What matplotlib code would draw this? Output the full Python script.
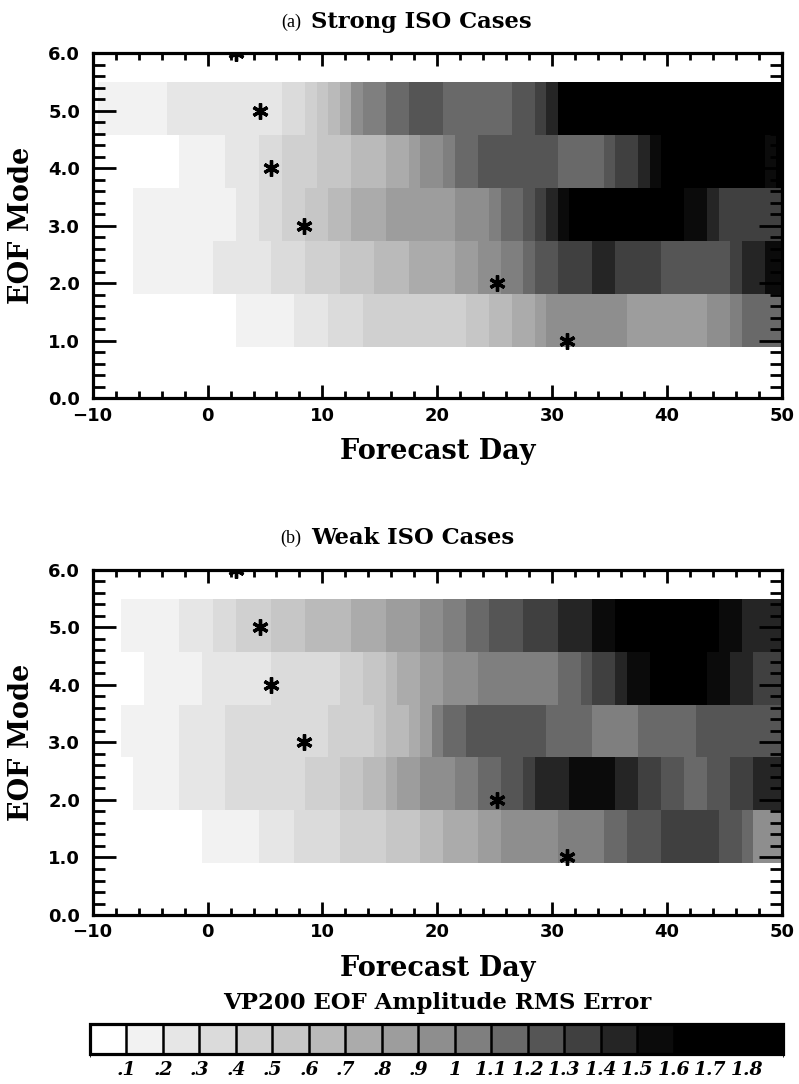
import numpy as np
import matplotlib
matplotlib.use("Agg")
import matplotlib.pyplot as plt
from matplotlib.colors import ListedColormap, BoundaryNorm
from matplotlib.ticker import MultipleLocator


# --------------------------------------------------------------------------
# data: one cell per forecast day (-9 .. 50) for EOF modes 1-5
# each row is a list of (rms error, number of consecutive days) runs
# --------------------------------------------------------------------------
DAYS = np.arange(-9, 51)
MODE_EDGES = [0.9, 1.82, 2.74, 3.66, 4.58, 5.5]

STRONG_M1 = [(0.05, 12), (0.15, 5), (0.25, 3), (0.35, 3), (0.45, 9), (0.55, 2), (0.65, 2),
             (0.75, 2), (0.85, 1), (0.95, 7), (0.85, 7), (0.95, 2), (1.05, 1), (1.15, 4)]
STRONG_M2 = [(0.05, 3), (0.15, 7), (0.25, 5), (0.35, 3), (0.45, 3), (0.55, 3), (0.65, 3),
             (0.75, 4), (0.85, 2), (0.95, 2), (1.05, 2), (1.15, 1), (1.25, 2), (1.35, 3),
             (1.45, 2), (1.35, 4), (1.25, 6), (1.35, 1), (1.45, 2), (1.55, 2)]
STRONG_M3 = [(0.05, 3), (0.15, 9), (0.25, 2), (0.35, 2), (0.45, 2), (0.55, 2), (0.65, 2),
             (0.75, 3), (0.85, 6), (0.95, 3), (1.05, 1), (1.15, 2), (1.25, 1), (1.35, 1),
             (1.45, 1), (1.55, 1), (1.75, 10), (1.55, 2), (1.45, 1), (1.35, 6)]
STRONG_M4 = [(0.05, 7), (0.15, 4), (0.25, 3), (0.35, 2), (0.45, 3), (0.55, 3), (0.65, 3),
             (0.75, 2), (0.85, 1), (0.95, 2), (1.05, 1), (1.15, 2), (1.25, 7), (1.15, 4),
             (1.25, 1), (1.35, 2), (1.45, 1), (1.55, 1), (1.75, 9), (1.55, 1), (1.75, 1)]
STRONG_M5 = [(0.15, 6), (0.25, 10), (0.35, 2), (0.45, 1), (0.55, 1), (0.65, 1), (0.75, 1),
             (0.95, 1), (1.05, 2), (1.15, 2), (1.25, 3), (1.15, 6), (1.25, 2), (1.35, 1),
             (1.45, 1), (1.75, 20)]

WEAK_M1 = [(0.05, 9), (0.15, 5), (0.25, 3), (0.35, 4), (0.45, 4), (0.55, 3), (0.65, 2),
           (0.75, 3), (0.85, 2), (0.95, 5), (1.05, 4), (1.15, 2), (1.25, 3), (1.35, 5),
           (1.25, 2), (1.15, 1), (0.95, 3)]
WEAK_M2 = [(0.05, 3), (0.15, 4), (0.25, 4), (0.35, 7), (0.45, 3), (0.55, 2), (0.65, 2),
           (0.75, 1), (0.85, 2), (0.95, 3), (1.05, 2), (1.15, 2), (1.25, 2), (1.35, 1),
           (1.45, 3), (1.55, 4), (1.45, 2), (1.35, 2), (1.25, 2), (1.15, 2), (1.25, 2),
           (1.35, 2), (1.45, 3)]
WEAK_M3 = [(0.05, 2), (0.15, 5), (0.25, 4), (0.35, 9), (0.45, 4), (0.55, 1), (0.65, 2),
           (0.75, 1), (0.85, 1), (1.05, 1), (1.15, 2), (1.25, 7), (1.15, 4), (1.05, 4),
           (1.15, 5), (1.25, 8)]
WEAK_M4 = [(0.05, 4), (0.15, 5), (0.25, 6), (0.35, 6), (0.45, 2), (0.55, 2), (0.65, 1),
           (0.75, 2), (0.85, 2), (0.95, 3), (1.05, 7), (1.15, 2), (1.25, 1), (1.35, 2),
           (1.45, 1), (1.55, 2), (1.75, 5), (1.55, 2), (1.45, 2), (1.35, 3)]
WEAK_M5 = [(0.05, 2), (0.15, 5), (0.25, 3), (0.35, 2), (0.45, 3), (0.55, 3), (0.65, 4),
           (0.75, 3), (0.85, 3), (0.95, 2), (1.05, 2), (1.15, 2), (1.25, 3), (1.35, 3),
           (1.45, 3), (1.55, 2), (1.75, 9), (1.55, 2), (1.45, 4)]

# asterisks (same in both panels)
STAR_DAY = [31.3, 25.2, 8.4, 5.5, 4.6, 2.5]
STAR_MODE = [1, 2, 3, 4, 5, 6]

# colour scale: 19 grey boxes from 0 to 1.9
LEVELS = np.round(np.arange(0, 1.95, 0.1), 2)
GREYS = [255, 242, 230, 219, 208, 198, 186, 171, 157, 142, 127, 105, 85, 64, 37, 11, 0, 0, 0]
CB_TICKS = np.round(np.arange(0.1, 1.85, 0.1), 2)

TITLE_FONT = "DejaVu Serif"
TICK_FONT = "DejaVu Sans"


def expand(runs):
    vals = np.concatenate([np.full(n, v) for v, n in runs])
    assert len(vals) == len(DAYS)
    return vals


def style_axes(ax):
    ax.set_xlim(-10, 50)
    ax.set_ylim(0, 6)
    ax.xaxis.set_major_locator(MultipleLocator(10))
    ax.xaxis.set_minor_locator(MultipleLocator(2))
    ax.yaxis.set_major_locator(MultipleLocator(1))
    ax.yaxis.set_minor_locator(MultipleLocator(0.2))
    ax.yaxis.set_major_formatter(plt.FormatStrFormatter("%.1f"))
    ax.tick_params(which="both", direction="in", top=True, right=True, width=2.0,
                   color="black")
    ax.tick_params(axis="x", which="major", length=9.5, pad=6)
    ax.tick_params(axis="x", which="minor", length=5)
    ax.tick_params(axis="y", which="major", length=16.5, pad=9)
    ax.tick_params(axis="y", which="minor", length=8.5)
    for lab in ax.get_xticklabels() + ax.get_yticklabels():
        lab.set_fontfamily(TICK_FONT)
        lab.set_fontweight("bold")
        lab.set_fontsize(13)
    for sp in ax.spines.values():
        sp.set_linewidth(2.3)
    ax.set_xlabel("Forecast Day", fontfamily=TITLE_FONT, fontweight="bold", fontsize=19.5)
    ax.set_ylabel("EOF Mode", fontfamily=TITLE_FONT, fontweight="bold", fontsize=19.5)
    ax.xaxis.set_label_coords(0.5, -0.155)
    ax.xaxis.label.set_va("center")
    ax.yaxis.set_label_coords(-0.103, 0.5)
    ax.yaxis.label.set_va("center")


def main():
    cmap = ListedColormap([(g / 255, g / 255, g / 255) for g in GREYS])
    norm = BoundaryNorm(LEVELS, cmap.N)

    x_edges = np.append(DAYS - 0.5, DAYS[-1] + 0.5)

    fig = plt.figure(figsize=(7.99, 10.84), dpi=100)
    ax_a = fig.add_axes([0.116, 0.6326, 0.8627, 0.3183])
    ax_b = fig.add_axes([0.116, 0.1559, 0.8627, 0.3183])

    panels = [
        (ax_a, [STRONG_M1, STRONG_M2, STRONG_M3, STRONG_M4, STRONG_M5], "(a)",
         "Strong ISO Cases", 0.9797),
        (ax_b, [WEAK_M1, WEAK_M2, WEAK_M3, WEAK_M4, WEAK_M5], "(b)",
         "Weak ISO Cases", 0.5037),
    ]

    mesh = None
    for ax, rows, tag, title, ty in panels:
        grid = np.vstack([expand(r) for r in rows])
        mesh = ax.pcolormesh(x_edges, MODE_EDGES, grid, cmap=cmap, norm=norm,
                             edgecolors="none")
        ax.plot(STAR_DAY, STAR_MODE, linestyle="none", marker=(6, 2, 0),
                markersize=11.5, markeredgewidth=2.4, color="black")
        style_axes(ax)
        fig.text(0.377, ty, tag, ha="right", va="center", fontfamily="Liberation Serif",
                 fontsize=13)
        fig.text(0.389, ty, title, ha="left", va="center", fontfamily=TITLE_FONT,
                 fontweight="bold", fontsize=16.3)

    # ---------------- colour bar ----------------
    cax = fig.add_axes([0.1126, 0.0277, 0.8677, 0.0274])
    cb = fig.colorbar(mesh, cax=cax, orientation="horizontal", drawedges=True,
                      ticks=CB_TICKS)
    cb.outline.set_linewidth(2.3)
    cb.dividers.set_linewidth(1.8)
    cb.dividers.set_color("black")
    labels = []
    for t in CB_TICKS:
        s = f"{t:.1f}"
        if s.startswith("0"):
            s = s[1:]
        if s == "1.0":
            s = "1"
        labels.append(s)
    cb.set_ticklabels(labels)
    cax.tick_params(length=0, pad=5)
    for lab in cax.get_xticklabels():
        lab.set_fontfamily(TITLE_FONT)
        lab.set_fontstyle("italic")
        lab.set_fontweight("bold")
        lab.set_fontsize(13.5)
    fig.text(0.547, 0.0747, "VP200 EOF Amplitude RMS Error", ha="center", va="center",
             fontfamily=TITLE_FONT, fontweight="bold", fontsize=16.4)

    fig.savefig("out.png", dpi=100)
    plt.close(fig)


if __name__ == "__main__":
    main()
